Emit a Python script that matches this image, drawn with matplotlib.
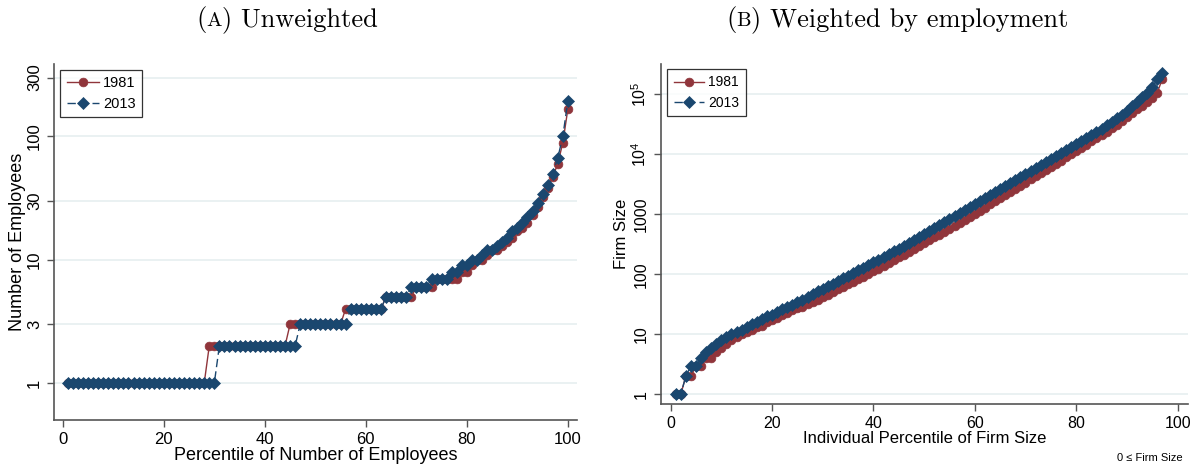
import matplotlib
matplotlib.use("Agg")
import matplotlib.pyplot as plt
from matplotlib.transforms import IdentityTransform

# ----------------------------------------------------------------- data
# (A) percentile of number of employees -> employees
pct_a = list(range(1, 101))
emp_1981 = [1, 1, 1, 1, 1, 1, 1, 1, 1, 1, 1, 1, 1, 1, 1, 1, 1, 1, 1, 1,
            1, 1, 1, 1, 1, 1, 1, 1, 2, 2, 2, 2, 2, 2, 2, 2, 2, 2, 2, 2,
            2, 2, 2, 2, 3, 3, 3, 3, 3, 3, 3, 3, 3, 3, 3, 4, 4, 4, 4, 4,
            4, 4, 4, 5, 5, 5, 5, 5, 5, 6, 6, 6, 6, 7, 7, 7, 7, 7, 8, 8,
            9, 10, 10, 11, 12, 12, 13, 14, 15, 17, 18, 20, 23, 27, 32, 38, 47, 60, 89, 167]
emp_2013 = [1, 1, 1, 1, 1, 1, 1, 1, 1, 1, 1, 1, 1, 1, 1, 1, 1, 1, 1, 1,
            1, 1, 1, 1, 1, 1, 1, 1, 1, 1, 2, 2, 2, 2, 2, 2, 2, 2, 2, 2,
            2, 2, 2, 2, 2, 2, 3, 3, 3, 3, 3, 3, 3, 3, 3, 3, 4, 4, 4, 4,
            4, 4, 4, 5, 5, 5, 5, 5, 6, 6, 6, 6, 7, 7, 7, 7, 8, 8, 9, 9,
            10, 10, 11, 12, 12, 13, 14, 15, 17, 18, 20, 22, 25, 29, 34, 40, 50, 67, 100, 195]

# (B) individual percentile of firm size (employment weighted) -> firm size
pct_b = list(range(1, 98))
size_1981 = [1, 1, 2, 2, 3, 3, 4, 4, 5, 6,
             7, 8, 9, 10, 11, 12, 13, 14, 16, 17,
             19, 21, 23, 25, 27, 29, 32, 35, 38, 42,
             46, 51, 56, 61, 68, 75, 83, 92, 101, 112,
             125, 139, 154, 171, 191, 213, 238, 265, 296, 331,
             370, 413, 461, 515, 575, 646, 724, 813, 912, 1023,
             1153, 1300, 1466, 1652, 1862, 2099, 2366, 2667, 3006, 3388,
             3819, 4305, 4853, 5470, 6166, 6982, 7907, 8954, 10140, 11480,
             12940, 14590, 16440, 18540, 20890, 23820, 27100, 30900, 35890, 41690,
             48420, 56230, 64570, 74130, 86000, 107000, 182000]
size_2013 = [1, 1, 2, 3, 3, 4, 5, 6, 7, 8,
             9, 10, 11, 12, 13, 15, 16, 18, 20, 21,
             24, 26, 29, 31, 35, 38, 42, 47, 52, 58,
             64, 70, 78, 86, 95, 106, 117, 129, 143, 158,
             176, 196, 218, 242, 269, 301, 336, 375, 419, 468,
             525, 589, 661, 741, 832, 933, 1047, 1175, 1318, 1479,
             1660, 1862, 2089, 2344, 2630, 2951, 3311, 3715, 4169, 4677,
             5248, 5888, 6607, 7413, 8318, 9333, 10470, 11750, 13180, 14790,
             16670, 18790, 21180, 23880, 26920, 30690, 34910, 39810, 46240, 53700,
             63100, 74100, 89100, 107000, 135000, 182000, 224000]

yticks_a = [1, 3, 10, 30, 100, 300]
yticks_b = [1, 10, 100, 1000, 1e4, 1e5]
ylabels_b = ["1", "10", "100", "1000", "$10^4$", "$10^5$"]
xticks = [0, 20, 40, 60, 80, 100]

# ----------------------------------------------------------------- style
MAROON = "#90353B"
NAVY = "#1A476F"
GRID = "#E6EFF0"
AXIS = "#555555"

plt.rcParams["font.family"] = ["Liberation Sans", "DejaVu Sans"]
plt.rcParams["mathtext.fontset"] = "custom"
plt.rcParams["mathtext.rm"] = "Liberation Sans"
plt.rcParams["mathtext.it"] = "Liberation Sans"


def style_axes(ax, yticks, ylabels, fs):
    ax.set_yscale("log")
    ax.set_yticks(yticks)
    ax.set_yticklabels(ylabels, rotation=90, va="center")
    ax.minorticks_off()
    ax.set_xticks(xticks)
    ax.grid(axis="y", color=GRID, lw=1.2)
    ax.set_axisbelow(True)
    for side in ("top", "right"):
        ax.spines[side].set_visible(False)
    for side in ("left", "bottom"):
        ax.spines[side].set_color(AXIS)
        ax.spines[side].set_linewidth(1.2)
    ax.tick_params(labelcolor="black", labelsize=fs, length=5, width=1,
                   direction="out", color=AXIS)


def draw(ax, x, y81, y13, fs):
    ax.plot(x, y81, color=MAROON, lw=1, marker="o", ms=6.3, mec=MAROON, mew=0.5, label="1981")
    ax.plot(x, y13, color=NAVY, lw=1, ls=(0, (6, 3)), marker="D", ms=6.3, mec=NAVY, mew=0.5,
            label="2013")
    leg = ax.legend(loc="upper left", bbox_to_anchor=(0.012, 0.985), fontsize=fs,
                    frameon=True, fancybox=False, edgecolor="black", handlelength=2.2,
                    borderpad=0.45, labelspacing=0.45, handletextpad=0.3, borderaxespad=0)
    leg.get_frame().set_linewidth(0.9)


def title(fig, x, y, letter, rest, size=19):
    """panel title: '(' + small-caps letter + ') rest', chained left to right."""
    r = fig.canvas.get_renderer()
    px, py = fig.transFigure.transform((x, y))
    for txt, fs in (("(", size), (letter, size * 0.78), (") " + rest, size)):
        t = fig.text(px, py, txt, family="cmr10", fontsize=fs, ha="left", va="baseline",
                     transform=IdentityTransform())
        px = t.get_window_extent(r).x1


fig = plt.figure(figsize=(11.99, 4.69), dpi=100)
ax1 = fig.add_axes([0.045, 0.1036, 0.436, 0.7594])
ax2 = fig.add_axes([0.5513, 0.1386, 0.4395, 0.7249])

# left panel is a slightly larger-scale image than the right one
draw(ax1, pct_a, emp_1981, emp_2013, 10.5)
style_axes(ax1, yticks_a, [str(v) for v in yticks_a], 12)
ax1.set_xlim(-1.75, 101.75)
ax1.set_ylim(10 ** -0.303, 10 ** 2.585)
ax1.set_xlabel("Percentile of Number of Employees", fontsize=13, labelpad=0)
ax1.set_ylabel("Number of Employees", fontsize=13, labelpad=1)

draw(ax2, pct_b, size_1981, size_2013, 10)
style_axes(ax2, yticks_b, ylabels_b, 11.5)
ax2.set_xlim(-1.9, 102.05)
ax2.set_ylim(10 ** -0.162, 10 ** 5.507)
ax2.set_xlabel("Individual Percentile of Firm Size", fontsize=12, labelpad=0)
ax2.set_ylabel("Firm Size", fontsize=12, labelpad=1)
fig.text(0.986, 0.012, "0 \u2264 Firm Size", fontsize=8, ha="right", va="bottom")

fig.canvas.draw()
title(fig, 0.1635, 0.944, "A", "Unweighted")
title(fig, 0.6055, 0.944, "B", "Weighted by employment")

fig.savefig("out.png", dpi=100)
